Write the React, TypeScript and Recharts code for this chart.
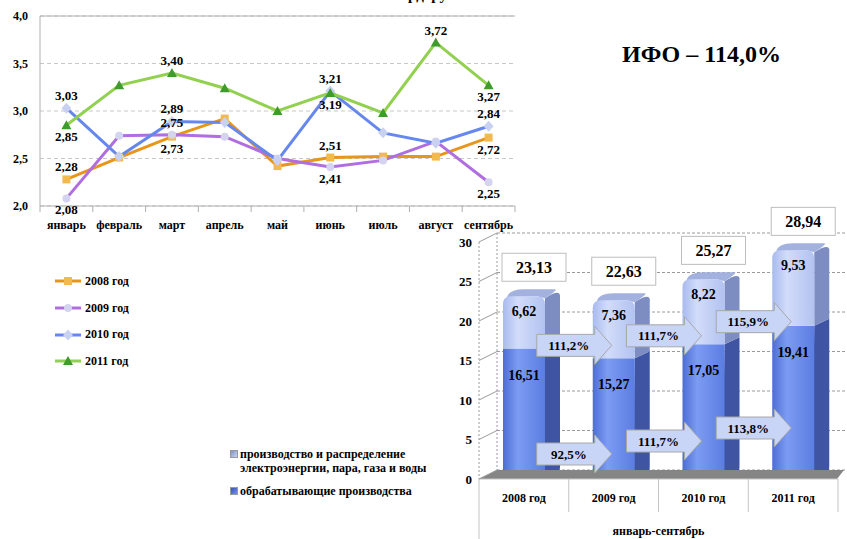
import React from 'react';
import {
  LineChart,
  Line,
  BarChart,
  Bar,
  XAxis,
  YAxis,
  CartesianGrid,
  Legend,
  LabelList,
  ReferenceLine,
} from 'recharts';

const FONT = '"Liberation Serif", "Times New Roman", serif';

// --- line chart data (monthly index) ---
const months = ['январь', 'февраль', 'март', 'апрель', 'май', 'июнь', 'июль', 'август', 'сентябрь'];
const y2008 = [2.28, 2.51, 2.73, 2.92, 2.42, 2.51, 2.52, 2.52, 2.72];
const y2009 = [2.08, 2.74, 2.75, 2.73, 2.5, 2.41, 2.48, 2.68, 2.25];
const y2010 = [3.03, 2.52, 2.89, 2.88, 2.48, 3.21, 2.77, 2.66, 2.84];
const y2011 = [2.85, 3.27, 3.4, 3.24, 3.0, 3.19, 2.98, 3.72, 3.27];
const lineTicks = [2.0, 2.5, 3.0, 3.5, 4.0];

// --- bar chart data (January-September) ---
const years = ['2008 год', '2009 год', '2010 год', '2011 год'];
const manufacturing = [16.51, 15.27, 17.05, 19.41];
const energy = [6.62, 7.36, 8.22, 9.53];
const totals = [23.13, 22.63, 25.27, 28.94];
const energyGrowth = ['', '111,2%', '111,7%', '115,9%'];
const manufGrowth = ['', '92,5%', '111,7%', '113,8%'];
const barTicks = [0, 5, 10, 15, 20, 25, 30];

const lineData = months.map((m, i) => ({
  month: m,
  y2008: y2008[i],
  y2009: y2009[i],
  y2010: y2010[i],
  y2011: y2011[i],
}));

const barData = years.map((y, i) => ({
  year: y,
  manufacturing: manufacturing[i],
  energy: energy[i],
  total: totals[i],
  energyGrowth: energyGrowth[i],
  manufGrowth: manufGrowth[i],
}));

type Pos = 'top' | 'bottom';

const lineSeries: {
  key: string;
  name: string;
  color: string;
  marker: string;
  markerFill: string;
  labels: Record<number, Pos>;
}[] = [
  { key: 'y2008', name: '2008 год', color: '#e8951c', marker: 'square', markerFill: '#f2b94f', labels: { 0: 'top', 2: 'bottom', 5: 'top', 8: 'bottom' } },
  { key: 'y2009', name: '2009 год', color: '#b06ee0', marker: 'circle', markerFill: '#d5d4f0', labels: { 0: 'bottom', 2: 'top', 5: 'bottom', 8: 'bottom' } },
  { key: 'y2010', name: '2010 год', color: '#6688ee', marker: 'diamond', markerFill: '#c9d1f3', labels: { 0: 'top', 2: 'top', 5: 'top', 8: 'top' } },
  { key: 'y2011', name: '2011 год', color: '#92d050', marker: 'triangle', markerFill: '#3f9b2b', labels: { 0: 'bottom', 2: 'top', 5: 'bottom', 7: 'top', 8: 'bottom' } },
];

const fmt = (v: number, d = 2) => v.toFixed(d).replace('.', ',');

function Marker({ type, cx, cy, fill }: any) {
  if (type === 'square') return <rect x={cx - 4} y={cy - 4} width={8} height={8} fill={fill} />;
  if (type === 'circle') return <circle cx={cx} cy={cy} r={4} fill={fill} />;
  if (type === 'diamond')
    return <path d={`M${cx},${cy - 5.5} L${cx + 5},${cy} L${cx},${cy + 5.5} L${cx - 5},${cy} Z`} fill={fill} />;
  return <path d={`M${cx},${cy - 5} L${cx + 5},${cy + 4} L${cx - 5},${cy + 4} Z`} fill={fill} />;
}

const pointLabel = (marks: Record<number, Pos>) => (props: any) => {
  const { index, value } = props;
  const pos = marks[index];
  if (!pos || value == null) return null;
  const vb = props.viewBox || {};
  const x = vb.x ?? props.x;
  const y = vb.y ?? props.y;
  return (
    <text
      key={`pl-${index}`}
      x={x}
      y={pos === 'top' ? y - 8 : y + 16}
      textAnchor="middle"
      fontFamily={FONT}
      fontWeight="bold"
      fontSize={13}
      fill="#000"
    >
      {fmt(value)}
    </text>
  );
};

function MonthTick(props: any) {
  const { x, y, payload, index } = props;
  const half = payload?.offset || 26.4;
  return (
    <g>
      <text x={x} y={y + 23} textAnchor="middle" fontFamily={FONT} fontWeight="bold" fontSize={12} fill="#000">
        {payload.value}
      </text>
      <line x1={x + half} y1={y} x2={x + half} y2={y + 6} stroke="#b0b0b0" />
      {index === 0 && <line x1={x - half} y1={y} x2={x - half} y2={y + 6} stroke="#b0b0b0" />}
    </g>
  );
}

function LineLegend() {
  return (
    <div style={{ fontFamily: FONT, fontWeight: 'bold', fontSize: 12, color: '#000' }}>
      {lineSeries.map((s) => (
        <div key={s.key} style={{ display: 'flex', alignItems: 'center', height: 26.7 }}>
          <svg width={27} height={12}>
            <line x1={0} y1={6} x2={26} y2={6} stroke={s.color} strokeWidth={3} />
            <Marker type={s.marker} cx={13} cy={6} fill={s.markerFill} />
          </svg>
          <span style={{ marginLeft: 3 }}>{s.name}</span>
        </div>
      ))}
    </div>
  );
}

// --- 3D bar pieces ---
const DX = 15;
const DY = 7;

function ManufShape(props: any) {
  const { x, y, width: w, height: h } = props;
  if (!h || h <= 0) return null;
  const r = 6;
  const front = `M${x},${y} L${x + w},${y} L${x + w},${y + h - r} Q${x + w},${y + h} ${x + w - r},${y + h} L${x + r},${y + h} Q${x},${y + h} ${x},${y + h - r} Z`;
  const side = `M${x + w},${y} L${x + w + DX},${y - DY} L${x + w + DX},${y + h - DY - 5} Q${x + w + DX},${y + h - DY + 1} ${x + w + DX - 6},${y + h - 2} L${x + w - 2},${y + h} Z`;
  return (
    <g>
      <path d={side} fill="#3f55a3" />
      <path d={front} fill="url(#gDarkFront)" />
    </g>
  );
}

function EnergyShape(props: any) {
  const { x, y, width: w, height: h } = props;
  if (!h || h <= 0) return null;
  const r = 8;
  const front = `M${x},${y + h} L${x},${y + r} Q${x},${y} ${x + r},${y} L${x + w - r},${y} Q${x + w},${y} ${x + w},${y + r} L${x + w},${y + h} Z`;
  const top = `M${x + 4},${y + 1} Q${x + 6},${y - DY} ${x + r + DX - 2},${y - DY} L${x + w + DX - 5},${y - DY} Q${x + w + DX - 1},${y - DY} ${x + w},${y + 2} L${x + w - r},${y} Z`;
  const side = `M${x + w},${y + 2} Q${x + w + DX - 1},${y - DY} ${x + w + DX},${y - DY + 6} L${x + w + DX},${y + h - DY} L${x + w},${y + h} Z`;
  return (
    <g>
      <path d={side} fill="#7d8cc1" />
      <path d={top} fill="#a3b1df" />
      <path d={front} fill="url(#gLightFront)" />
    </g>
  );
}

function Arrow({ tipX, cy, text }: { tipX: number; cy: number; text: string }) {
  const len = 75;
  const head = 17;
  const bh = 11;
  const hh = 19;
  const x0 = tipX - len;
  const hx = tipX - head;
  const d = `M${x0},${cy - bh} L${hx},${cy - bh} L${hx},${cy - hh} L${tipX},${cy} L${hx},${cy + hh} L${hx},${cy + bh} L${x0},${cy + bh} Z`;
  return (
    <g>
      <path d={d} fill="#c8d5f6" stroke="#a8a8a8" strokeWidth={1} />
      <text x={(x0 + hx) / 2 + 3} y={cy + 4.5} textAnchor="middle" fontFamily={FONT} fontWeight="bold" fontSize={13} fill="#000">
        {text}
      </text>
    </g>
  );
}

const boxOf = (props: any) => props.viewBox || props;

const darkValueLabel = (props: any) => {
  const vb = boxOf(props);
  return (
    <text x={vb.x + vb.width / 2} y={vb.y + 31} textAnchor="middle" fontFamily={FONT} fontWeight="bold" fontSize={14} fill="#000">
      {fmt(props.value)}
    </text>
  );
};

const lightValueLabel = (props: any) => {
  const vb = boxOf(props);
  return (
    <text x={vb.x + vb.width / 2} y={vb.y + 20} textAnchor="middle" fontFamily={FONT} fontWeight="bold" fontSize={14} fill="#000">
      {fmt(props.value)}
    </text>
  );
};

const totalLabel = (props: any) => {
  const vb = boxOf(props);
  const cx = vb.x + vb.width / 2 + 10;
  return (
    <g>
      <rect x={cx - 32} y={vb.y - 43} width={64} height={28} fill="#fff" stroke="#bdbdbd" />
      <text x={cx} y={vb.y - 23.5} textAnchor="middle" fontFamily={FONT} fontWeight="bold" fontSize={16} fill="#000">
        {fmt(props.value)}
      </text>
    </g>
  );
};

const upperArrowLabel = (props: any) => {
  if (!props.value) return null;
  const vb = boxOf(props);
  const i = energyGrowth.indexOf(props.value);
  const cy = vb.y + vb.height - 13 + 4.5 * (i - 1);
  return <Arrow tipX={vb.x + 19} cy={cy} text={props.value} />;
};

const lowerArrowLabel = (props: any) => {
  if (!props.value) return null;
  const vb = boxOf(props);
  const i = manufGrowth.indexOf(props.value);
  const cy = vb.y + vb.height - 25 - 13 * (i - 1);
  return <Arrow tipX={vb.x + 19} cy={cy} text={props.value} />;
};

function ValueTick(props: any) {
  const { x, y, payload } = props;
  const ax = x + 7;
  return (
    <g>
      <line x1={ax} y1={y} x2={ax + 18} y2={y - 9} stroke="#9a9a9a" />
      <text x={x} y={y + 4.5} textAnchor="end" fontFamily={FONT} fontWeight="bold" fontSize={13} fill="#000">
        {payload.value}
      </text>
    </g>
  );
}

function YearTick(props: any) {
  const { x, y, payload, index } = props;
  const half = payload?.offset || 44.9;
  return (
    <g>
      <text x={x} y={y + 23} textAnchor="middle" fontFamily={FONT} fontWeight="bold" fontSize={12} fill="#000">
        {payload.value}
      </text>
      <line x1={x + half} y1={y} x2={x + half} y2={y + 33} stroke="#c4c4c4" />
      {index === 0 && <line x1={x - half} y1={y} x2={x - half} y2={y + 60} stroke="#c4c4c4" />}
    </g>
  );
}

function BarLegend() {
  const icon = (bg: string) => (
    <span
      style={{
        display: 'inline-block',
        width: 8,
        height: 8,
        marginTop: 3,
        background: bg,
        border: '1px solid #9a9a9a',
        boxSizing: 'border-box',
        flex: 'none',
      }}
    />
  );
  return (
    <div style={{ fontFamily: FONT, fontWeight: 'bold', fontSize: 12, lineHeight: '14px', color: '#000' }}>
      <div style={{ display: 'flex', alignItems: 'flex-start' }}>
        {icon('linear-gradient(135deg, #7f90c8, #c8d3f4)')}
        <span style={{ marginLeft: 2 }}>
          производство и распределение
          <br />
          электроэнергии, пара, газа и воды
        </span>
      </div>
      <div style={{ display: 'flex', alignItems: 'flex-start', marginTop: 9 }}>
        {icon('linear-gradient(135deg, #3852b0, #7190ea)')}
        <span style={{ marginLeft: 2 }}>обрабатывающие производства</span>
      </div>
    </div>
  );
}

export default function App() {
  return (
    <div
      style={{
        position: 'absolute',
        left: 0,
        top: 0,
        width: 847,
        height: 539,
        overflow: 'hidden',
        background: '#fff',
        fontFamily: FONT,
      }}
    >
      <div
        style={{
          position: 'absolute',
          right: 847 - 458,
          top: -13,
          fontSize: 15,
          fontWeight: 'bold',
          whiteSpace: 'nowrap',
          lineHeight: '17px',
        }}
      >
        млрд. руб.
      </div>

      <div style={{ position: 'absolute', left: 0, top: 0 }}>
        <LineChart width={530} height={240} data={lineData} margin={{ top: 16, right: 15, bottom: 0, left: 0 }}>
          <CartesianGrid vertical={false} stroke="#c8c8c8" strokeDasharray="4 3" />
          <XAxis
            dataKey="month"
            height={34}
            padding={{ left: 26.4, right: 26.4 }}
            tickLine={false}
            tickSize={0}
            tickMargin={0}
            axisLine={{ stroke: '#b0b0b0' }}
            tick={<MonthTick />}
            interval={0}
          />
          <YAxis
            width={40}
            domain={[2, 4]}
            ticks={lineTicks}
            tickFormatter={(v: number) => fmt(v, 1)}
            tickLine={false}
            tickSize={0}
            tickMargin={12}
            axisLine={{ stroke: '#b0b0b0' }}
            tick={{ fontFamily: FONT, fontWeight: 'bold', fontSize: 12, fill: '#000' }}
          />
          <YAxis yAxisId="r" orientation="right" width={0} domain={[0, 1]} tick={false} tickLine={false} axisLine={{ stroke: '#b0b0b0' }} />
          <ReferenceLine y={4} stroke="#b0b0b0" />
          <Legend
            layout="vertical"
            verticalAlign="middle"
            align="center"
            content={<LineLegend />}
            wrapperStyle={{ left: 55, top: 268, width: 130 }}
          />
          {lineSeries.map((s) => (
            <Line
              key={s.key}
              dataKey={s.key}
              name={s.name}
              stroke={s.color}
              strokeWidth={3}
              isAnimationActive={false}
              dot={(p: any) => <Marker key={`${s.key}-${p.index}`} type={s.marker} cx={p.cx} cy={p.cy} fill={s.markerFill} />}
              activeDot={false}
            >
              <LabelList dataKey={s.key} content={pointLabel(s.labels)} />
            </Line>
          ))}
        </LineChart>
      </div>

      <div style={{ position: 'absolute', left: 220, top: 200 }}>
        <BarChart width={627} height={339} data={barData} margin={{ top: 42, right: 9, bottom: 0, left: 229 }} barSize={42}>
          <defs>
            <linearGradient id="gDarkFront" x1="0" y1="0" x2="1" y2="0">
              <stop offset="0%" stopColor="#4d6dd5" />
              <stop offset="35%" stopColor="#7c9bf3" />
              <stop offset="100%" stopColor="#5b7de1" />
            </linearGradient>
            <linearGradient id="gLightFront" x1="0" y1="0" x2="1" y2="0">
              <stop offset="0%" stopColor="#a8baee" />
              <stop offset="35%" stopColor="#d2dcfa" />
              <stop offset="100%" stopColor="#b2c2f0" />
            </linearGradient>
          </defs>
          <CartesianGrid
            horizontal={(p: any) => (
              <line
                key={`h-${p.y1}`}
                x1={p.x1 + 18}
                y1={p.y1 - 9}
                x2={p.x2 + 30}
                y2={p.y2 - 9}
                stroke="#9a9a9a"
                strokeDasharray="3 2"
              />
            )}
            vertical={(p: any) => (
              <line
                key={`v-${p.x1}`}
                x1={p.x1 + 18}
                y1={p.y1 - 9}
                x2={p.x2 + 18}
                y2={p.y2 - 9}
                stroke="#9a9a9a"
                strokeDasharray="2 2"
              />
            )}
            verticalCoordinatesGenerator={(args: any) => [args?.offset?.left ?? 259]}
          />
          <XAxis
            dataKey="year"
            height={60}
            tickLine={false}
            tickSize={0}
            tickMargin={0}
            axisLine={{ stroke: '#c4c4c4' }}
            tick={<YearTick />}
            interval={0}
            label={{
              value: 'январь-сентябрь',
              position: 'insideBottom',
              offset: 4,
              fontFamily: FONT,
              fontWeight: 'bold',
              fontSize: 12,
              fill: '#000',
            }}
          />
          <YAxis
            width={30}
            domain={[0, 30]}
            ticks={barTicks}
            tickLine={false}
            tickSize={0}
            tickMargin={7}
            axisLine={{ stroke: '#9a9a9a', strokeDasharray: '2 2' }}
            tick={<ValueTick />}
          />
          <ReferenceLine
            y={0}
            shape={(p: any) => (
              <path
                d={`M${p.x1},${p.y1} L${p.x1 + 18},${p.y1 - 9} L${p.x2 + 6},${p.y1 - 9} L${p.x2 - 1},${p.y1} Z`}
                fill="#858585"
              />
            )}
          />
          <Bar dataKey="manufacturing" stackId="a" name="обрабатывающие производства" fill="#6384e6" shape={<ManufShape />} isAnimationActive={false}>
            <LabelList dataKey="manufacturing" content={darkValueLabel} />
            <LabelList dataKey="manufGrowth" content={lowerArrowLabel} />
          </Bar>
          <Bar
            dataKey="energy"
            stackId="a"
            name="производство и распределение электроэнергии, пара, газа и воды"
            fill="#b8c6f2"
            shape={<EnergyShape />}
            isAnimationActive={false}
          >
            <LabelList dataKey="energy" content={lightValueLabel} />
            <LabelList dataKey="total" content={totalLabel} />
            <LabelList dataKey="energyGrowth" content={upperArrowLabel} />
          </Bar>
          <Legend
            layout="vertical"
            verticalAlign="middle"
            align="center"
            content={<BarLegend />}
            wrapperStyle={{ left: 10, top: 247, width: 260 }}
          />
        </BarChart>
      </div>

      <div
        style={{
          position: 'absolute',
          left: 622,
          top: 41,
          fontSize: 24,
          fontWeight: 'bold',
          whiteSpace: 'nowrap',
          color: '#000',
        }}
      >
        ИФО – 114,0%
      </div>
    </div>
  );
}
